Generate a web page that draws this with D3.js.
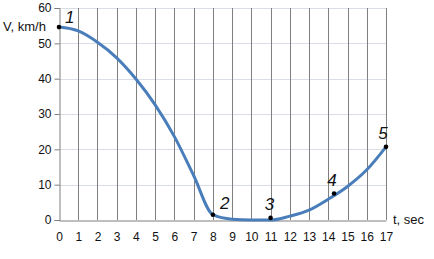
<!DOCTYPE html>
<html>
<head>
<meta charset="utf-8">
<script src="https://cdn.jsdelivr.net/npm/d3@7"></script>
<style>
  body { margin: 0; background: #fff; }
  text { font-family: "Liberation Sans", Arial, sans-serif; }
</style>
</head>
<body>
<svg id="chart" width="434" height="259"></svg>
<script>
// time (sec) and speed (km/h)
const times = [0, 1, 2, 3, 4, 5, 6, 7, 8, 9, 10, 11, 12, 13, 14, 15, 16, 17];
const speeds = [54.6, 53.5, 50.3, 45.9, 39.9, 32.6, 23.6, 12.6, 1.5, 0.2, 0, 0, 1.1, 2.8, 5.9, 9.5, 14.2, 20.7];
const yTicks = [0, 10, 20, 30, 40, 50, 60];

// numbered points
const markT = [0, 8, 11, 14.3, 17];
const markV = [54.6, 1.5, 0.6, 7.5, 20.7];
const markLabels = ["1", "2", "3", "4", "5"];

const svg = d3.select("#chart");
const margin = { left: 59, right: 48, top: 8, bottom: 39 };
const width = 434 - margin.left - margin.right,
      height = 259 - margin.top - margin.bottom;

const x = d3.scaleLinear().domain([0, 17]).range([margin.left, margin.left + width]);
const y = d3.scaleLinear().domain([0, 60]).range([margin.top + height, margin.top]);

// horizontal grid (light)
svg.append("g")
  .selectAll("line")
  .data(yTicks.slice(1))
  .join("line")
    .attr("x1", x(0)).attr("x2", x(17))
    .attr("y1", d => Math.round(y(d)) + 0.5).attr("y2", d => Math.round(y(d)) + 0.5)
    .attr("stroke", "#d9dde6");

// vertical grid (dark)
svg.append("g")
  .selectAll("line")
  .data(times.slice(1))
  .join("line")
    .attr("x1", d => Math.round(x(d)) + 0.5).attr("x2", d => Math.round(x(d)) + 0.5)
    .attr("y1", y(0)).attr("y2", y(60))
    .attr("stroke", "#7f7f7f");

// y axis
const yAxis = svg.append("g")
  .attr("transform", `translate(${Math.round(x(0)) + 0.5},0)`)
  .call(d3.axisLeft(y).tickValues(yTicks).tickSize(5).tickPadding(3));

// x axis
const xAxis = svg.append("g")
  .attr("transform", `translate(0,${Math.round(y(0)) + 0.5})`)
  .call(d3.axisBottom(x).tickValues(times).tickSize(0).tickPadding(12));

[yAxis, xAxis].forEach(g => {
  g.select(".domain").attr("stroke", "#7f7f7f");
  g.selectAll(".tick line").attr("stroke", "#7f7f7f");
  g.selectAll("text").attr("font-size", 12).attr("fill", "#111")
    .attr("font-family", "Liberation Sans, Arial, sans-serif");
});

// axis titles
svg.append("text")
  .attr("x", 3).attr("y", 31)
  .attr("font-size", 13).attr("fill", "#111")
  .text("V, km/h");

svg.append("text")
  .attr("x", 393).attr("y", 224)
  .attr("font-size", 13).attr("fill", "#111")
  .text("t, sec");

// speed curve
const line = d3.line()
  .x((d, i) => x(times[i]))
  .y(d => y(d))
  .curve(d3.curveMonotoneX);

svg.append("path")
  .datum(speeds)
  .attr("d", line)
  .attr("fill", "none")
  .attr("stroke", "#4a7ebb")
  .attr("stroke-width", 3)
  .attr("stroke-linejoin", "round");

// numbered points
const labelDx = [6, 7, -1, -2, -3];
const labelDy = [-4, -6, -8, -8, -8];

svg.append("g")
  .selectAll("circle")
  .data(markT)
  .join("circle")
    .attr("cx", d => x(d))
    .attr("cy", (d, i) => y(markV[i]))
    .attr("r", 2.3)
    .attr("fill", "#000");

svg.append("g")
  .selectAll("text")
  .data(markLabels)
  .join("text")
    .attr("x", (d, i) => x(markT[i]) + labelDx[i])
    .attr("y", (d, i) => y(markV[i]) + labelDy[i])
    .attr("font-size", 17)
    .attr("font-style", "italic")
    .attr("fill", "#111")
    .attr("text-anchor", (d, i) => i >= 2 ? "middle" : "start")
    .text(d => d);
</script>
</body>
</html>
